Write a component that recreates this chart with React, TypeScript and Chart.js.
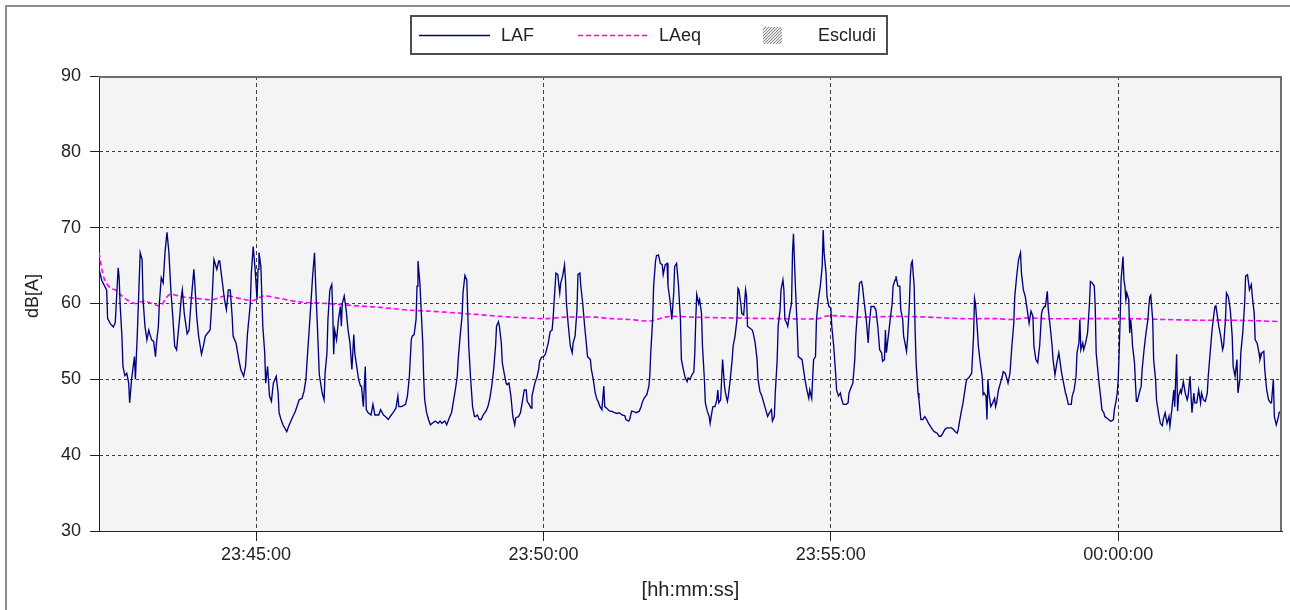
import { useEffect, useRef } from "react";
import { Chart, registerables } from "chart.js";

Chart.register(...registerables);

const FONT = "'Liberation Sans', Arial, sans-serif";
const TEXT = "#222222";

// time axis: seconds elapsed since 23:42:16
const START_CLOCK_SECONDS = 23 * 3600 + 42 * 60 + 16;
const X_MAX_SECONDS = 1235;
const xTickSeconds = [164, 464, 764, 1064]; // 23:45:00, 23:50:00, 23:55:00, 00:00:00
const yTickValues = [30, 40, 50, 60, 70, 80, 90];

const seriesNames = ["LAF", "LAeq", "Escludi"];
const xAxisTitle = "[hh:mm:ss]";
const yAxisTitle = "dB[A]";

// LAF readings: [seconds, dB(A)]
const lafReadings: [number, number][] = [
  [0, 64.5], [3, 63.0], [8, 61.8], [9, 58.0], [12, 57.3], [15, 56.9], [17, 57.5], [18, 60.0], [20, 64.7], [21, 63.5],
  [22, 60.0], [24, 55.5], [25, 51.7], [27, 50.5], [29, 50.8], [31, 49.5], [32, 46.9], [34, 50.0], [37, 53.0], [38, 50.0],
  [40, 56.0], [43, 66.7], [45, 65.8], [46, 60.5], [48, 57.0], [50, 55.2], [52, 56.5], [53, 56.0], [55, 55.2], [57, 55.0],
  [59, 53.0], [60, 54.8], [62, 57.0], [63, 60.0], [65, 63.4], [67, 62.7], [69, 66.9], [71, 69.4], [73, 66.7], [75, 61.8],
  [77, 58.3], [79, 54.4], [81, 53.9], [84, 57.9], [86, 60.9], [87, 61.8], [89, 58.7], [92, 56.0], [94, 56.5], [96, 60.0],
  [99, 64.5], [100, 62.7], [102, 58.3], [104, 55.7], [107, 53.3], [109, 54.4], [111, 55.7], [116, 56.5], [118, 60.5], [120, 65.8],
  [123, 64.5], [125, 65.6], [126, 65.6], [128, 63.6], [131, 60.5], [133, 59.2], [135, 61.8], [137, 61.8], [139, 58.3], [140, 55.7],
  [143, 54.8], [146, 52.6], [148, 51.3], [151, 50.4], [153, 51.7], [155, 56.0], [158, 60.0], [159, 64.0], [161, 67.5], [163, 64.5],
  [165, 60.5], [166, 64.5], [167, 66.7], [169, 64.9], [171, 57.0], [173, 53.5], [174, 49.5], [176, 51.7], [178, 47.8], [180, 47.1],
  [182, 49.5], [185, 50.4], [187, 48.2], [188, 45.6], [190, 44.7], [192, 44.0], [196, 43.1], [198, 43.8], [201, 44.7], [205, 45.8],
  [209, 47.3], [212, 47.5], [214, 48.4], [216, 50.0], [218, 53.9], [219, 55.7], [221, 59.6], [223, 63.6], [225, 66.7], [226, 63.1],
  [227, 60.0], [228, 57.0], [230, 50.6], [233, 48.2], [235, 47.3], [236, 50.8], [238, 53.5], [239, 57.9], [241, 61.8], [243, 62.5],
  [244, 59.2], [245, 53.3], [246, 56.5], [248, 55.2], [250, 57.9], [252, 59.6], [253, 57.0], [254, 60.0], [256, 61.0], [258, 59.2],
  [260, 56.5], [262, 54.8], [264, 51.3], [266, 55.9], [267, 53.5], [269, 51.7], [271, 50.0], [273, 49.1], [274, 49.1], [276, 46.4],
  [278, 51.7], [279, 46.0], [281, 45.6], [284, 45.3], [286, 46.7], [288, 45.3], [292, 45.3], [294, 46.0], [297, 45.3], [299, 45.1],
  [302, 44.7], [304, 45.1], [307, 45.6], [310, 46.2], [312, 47.8], [313, 46.4], [316, 46.4], [320, 46.7], [322, 47.8], [324, 50.4],
  [326, 55.2], [327, 55.7], [329, 55.9], [331, 57.9], [332, 62.3], [333, 65.6], [335, 62.7], [336, 60.0], [338, 54.8], [339, 50.0],
  [340, 47.3], [342, 45.6], [344, 44.7], [346, 44.0], [348, 44.2], [351, 44.5], [354, 44.2], [356, 44.5], [358, 44.2], [361, 44.5],
  [363, 44.0], [365, 44.7], [368, 45.6], [370, 47.1], [372, 48.6], [374, 50.4], [375, 52.6], [377, 55.7], [379, 58.3], [380, 61.4],
  [382, 63.7], [384, 63.1], [385, 58.7], [386, 54.4], [388, 50.0], [390, 46.4], [392, 45.1], [393, 45.1], [395, 45.3], [397, 44.7],
  [399, 44.7], [401, 45.3], [404, 45.8], [406, 46.4], [408, 47.5], [410, 49.1], [412, 51.3], [414, 54.4], [415, 57.0], [417, 57.6],
  [418, 57.0], [420, 54.8], [421, 52.2], [423, 50.8], [425, 49.5], [426, 49.3], [428, 49.5], [430, 47.8], [432, 45.1], [434, 44.0],
  [435, 44.9], [438, 45.1], [440, 45.6], [442, 47.1], [444, 48.6], [446, 48.6], [447, 47.1], [449, 46.7], [451, 46.2], [452, 47.8],
  [455, 49.5], [457, 50.2], [459, 51.3], [460, 52.4], [462, 52.9], [464, 53.0], [466, 53.3], [469, 54.8], [471, 56.3], [473, 56.5],
  [474, 57.9], [475, 60.0], [477, 64.0], [479, 63.8], [480, 62.5], [481, 61.4], [482, 62.7], [484, 63.6], [486, 65.1], [487, 63.1],
  [488, 60.0], [490, 57.0], [492, 54.4], [494, 53.5], [495, 54.8], [497, 55.7], [499, 59.2], [500, 63.8], [502, 64.0], [503, 62.3],
  [505, 60.0], [507, 57.0], [509, 54.4], [510, 53.0], [513, 52.6], [514, 51.3], [516, 50.0], [518, 48.2], [520, 47.3], [521, 47.1],
  [523, 46.4], [525, 46.0], [527, 49.1], [528, 46.4], [530, 46.2], [533, 45.8], [535, 45.8], [538, 45.6], [541, 45.5], [543, 45.6],
  [546, 45.3], [549, 45.2], [550, 44.7], [553, 44.5], [554, 44.7], [556, 45.8], [559, 45.7], [561, 45.6], [564, 45.8], [566, 46.4],
  [567, 46.9], [569, 47.5], [572, 48.0], [574, 49.1], [575, 50.4], [576, 53.5], [578, 57.9], [579, 62.3], [581, 65.6], [582, 66.3],
  [584, 66.4], [586, 65.3], [588, 65.1], [589, 63.8], [591, 65.1], [593, 65.3], [594, 62.3], [596, 60.5], [598, 57.9], [600, 61.4],
  [601, 64.9], [603, 65.3], [605, 62.3], [607, 57.9], [608, 52.6], [610, 51.3], [612, 50.2], [614, 49.7], [615, 50.2], [617, 50.0],
  [619, 50.6], [621, 51.0], [622, 53.5], [623, 57.9], [624, 61.2], [626, 60.0], [627, 60.5], [629, 58.7], [630, 54.4], [632, 50.0],
  [633, 46.9], [635, 45.8], [637, 45.1], [638, 44.2], [640, 45.8], [641, 46.4], [643, 46.4], [645, 47.3], [646, 48.6], [647, 46.9],
  [649, 47.3], [651, 52.6], [653, 49.1], [654, 48.2], [656, 47.1], [657, 47.8], [659, 50.0], [661, 52.6], [662, 54.4], [664, 55.7],
  [666, 57.9], [667, 62.0], [668, 61.8], [670, 60.0], [671, 58.7], [673, 58.5], [675, 61.8], [676, 60.9], [677, 57.0], [679, 56.8],
  [682, 56.5], [683, 56.1], [685, 54.8], [687, 52.6], [688, 50.0], [690, 48.4], [692, 47.8], [694, 46.9], [696, 46.0], [698, 45.1],
  [700, 45.6], [702, 46.0], [703, 44.5], [705, 45.1], [706, 48.2], [708, 52.6], [709, 57.0], [711, 59.2], [712, 61.8], [714, 63.1],
  [715, 61.8], [716, 57.9], [718, 57.4], [719, 57.0], [721, 58.7], [723, 60.0], [724, 66.7], [725, 69.2], [727, 62.3], [729, 56.5],
  [730, 53.0], [732, 52.8], [734, 52.6], [735, 51.7], [737, 50.0], [739, 48.6], [741, 47.5], [742, 48.6], [744, 47.5], [746, 52.6],
  [748, 53.0], [749, 57.9], [751, 60.5], [753, 62.3], [755, 64.9], [756, 69.7], [757, 66.7], [759, 64.0], [760, 60.9], [762, 59.6],
  [764, 59.4], [765, 57.0], [767, 54.4], [769, 50.8], [770, 48.6], [772, 47.8], [774, 48.2], [775, 47.5], [777, 46.7], [780, 46.7],
  [782, 46.9], [783, 48.2], [785, 48.9], [787, 49.5], [789, 52.6], [790, 55.7], [792, 59.2], [794, 62.7], [796, 62.9], [797, 62.3],
  [799, 60.0], [801, 57.9], [803, 54.8], [804, 57.0], [806, 59.6], [809, 59.6], [811, 59.2], [813, 57.0], [815, 53.9], [817, 53.5],
  [818, 52.4], [820, 52.6], [821, 56.5], [822, 53.5], [824, 55.7], [826, 57.9], [828, 60.0], [829, 62.3], [831, 63.1], [832, 63.6],
  [834, 62.3], [835, 62.3], [836, 62.3], [837, 59.2], [839, 57.9], [840, 55.7], [842, 54.4], [843, 53.7], [844, 55.2], [846, 60.0],
  [847, 63.6], [848, 65.3], [849, 65.6], [851, 62.3], [852, 56.5], [853, 52.2], [855, 48.2], [856, 47.3], [858, 44.7], [860, 44.7],
  [862, 45.1], [864, 44.7], [866, 44.2], [868, 43.8], [870, 43.4], [872, 43.1], [875, 42.9], [877, 42.5], [879, 42.5], [881, 42.9],
  [883, 43.4], [885, 43.6], [888, 43.6], [890, 43.6], [892, 43.4], [894, 43.1], [896, 42.9], [897, 43.4], [898, 44.2], [900, 45.6],
  [902, 46.9], [904, 48.6], [905, 49.5], [906, 50.0], [908, 50.2], [909, 50.4], [911, 50.8], [913, 55.7], [914, 60.7], [915, 60.0],
  [917, 56.5], [918, 54.4], [920, 52.2], [922, 50.4], [923, 48.0], [924, 48.2], [926, 47.8], [927, 44.7], [928, 50.0], [929, 48.2],
  [931, 46.4], [933, 46.9], [935, 47.5], [936, 46.4], [937, 46.9], [939, 48.6], [941, 49.5], [943, 50.4], [944, 51.0], [946, 50.8],
  [948, 50.0], [949, 49.5], [951, 50.8], [953, 54.4], [955, 57.4], [956, 60.9], [958, 63.6], [960, 65.8], [962, 66.7], [963, 64.0],
  [965, 61.8], [967, 60.9], [969, 59.2], [970, 58.3], [971, 57.4], [973, 59.0], [975, 58.3], [976, 54.4], [978, 52.6], [980, 52.2],
  [982, 54.4], [984, 58.7], [985, 59.2], [987, 59.6], [988, 59.6], [990, 61.6], [991, 59.2], [993, 57.0], [995, 54.4], [996, 52.6],
  [998, 50.6], [1000, 52.2], [1002, 53.5], [1003, 52.6], [1005, 50.8], [1007, 49.5], [1009, 48.2], [1010, 47.8], [1012, 46.7], [1015, 46.7],
  [1016, 47.8], [1018, 48.6], [1020, 50.4], [1021, 53.5], [1023, 54.8], [1024, 57.9], [1025, 53.9], [1027, 54.8], [1028, 53.9], [1030, 54.8],
  [1032, 56.1], [1034, 60.0], [1035, 62.9], [1037, 62.7], [1039, 62.3], [1040, 59.6], [1041, 53.5], [1043, 50.8], [1044, 49.5], [1046, 47.3],
  [1047, 46.0], [1049, 45.6], [1050, 45.1], [1052, 44.9], [1054, 44.7], [1056, 44.5], [1057, 44.5], [1059, 44.7], [1060, 46.0], [1062, 47.3],
  [1063, 48.2], [1064, 50.0], [1065, 53.5], [1066, 57.9], [1067, 63.1], [1069, 66.2], [1070, 63.1], [1071, 62.3], [1072, 60.5], [1073, 61.4],
  [1075, 60.5], [1076, 56.1], [1077, 57.9], [1078, 56.5], [1079, 54.4], [1081, 52.2], [1082, 49.5], [1083, 47.1], [1084, 47.1], [1086, 48.2],
  [1088, 49.1], [1089, 51.3], [1091, 53.9], [1093, 56.1], [1095, 57.9], [1096, 59.6], [1097, 60.9], [1098, 61.1], [1100, 57.9], [1101, 52.6],
  [1103, 50.0], [1104, 47.3], [1106, 45.6], [1108, 44.2], [1110, 43.9], [1111, 44.7], [1113, 45.6], [1115, 44.2], [1117, 45.1], [1118, 43.8],
  [1120, 46.0], [1122, 48.6], [1123, 46.4], [1125, 53.3], [1126, 45.8], [1127, 47.8], [1129, 48.6], [1130, 48.2], [1132, 49.7], [1134, 48.2],
  [1136, 47.3], [1137, 47.8], [1139, 50.4], [1141, 45.6], [1143, 48.2], [1144, 46.9], [1146, 46.9], [1148, 48.6], [1150, 46.9], [1151, 48.2],
  [1153, 47.3], [1155, 47.1], [1157, 48.2], [1158, 50.4], [1160, 53.5], [1162, 56.5], [1164, 58.7], [1165, 59.6], [1166, 59.7], [1168, 57.9],
  [1169, 57.0], [1171, 55.7], [1173, 53.9], [1174, 54.4], [1176, 57.9], [1177, 61.4], [1179, 60.9], [1181, 59.2], [1183, 55.7], [1184, 51.7],
  [1186, 50.4], [1188, 52.6], [1189, 48.2], [1191, 50.0], [1192, 53.5], [1194, 56.1], [1196, 60.0], [1197, 63.6], [1199, 63.8], [1201, 61.8],
  [1203, 62.5], [1204, 60.9], [1206, 58.7], [1207, 55.2], [1209, 54.8], [1211, 53.5], [1212, 52.6], [1214, 53.5], [1216, 53.7], [1217, 51.3],
  [1219, 48.6], [1221, 47.3], [1223, 46.9], [1224, 46.9], [1226, 50.0], [1227, 45.1], [1229, 44.0], [1231, 44.9], [1232, 45.6], [1234, 45.8],
  [1235, 45.8],
];

// LAeq (running equivalent level): [seconds, dB(A)]
const laeqReadings: [number, number][] = [
  [0, 66.7], [3, 64.5], [6, 63.1], [12, 62.0], [17, 61.8], [22, 61.2], [29, 60.5], [38, 60.0], [43, 60.2], [48, 60.3],
  [64, 59.7], [69, 60.5], [74, 61.2], [86, 60.9], [100, 60.7], [118, 60.5], [128, 60.9], [135, 61.0], [149, 60.6], [161, 60.4],
  [172, 61.0], [191, 60.6], [210, 60.2], [239, 60.0], [257, 59.8], [292, 59.5], [326, 59.1], [344, 59.0], [379, 58.7], [419, 58.3],
  [431, 58.2], [448, 58.1], [466, 58.0], [487, 58.2], [504, 58.2], [518, 58.2], [535, 58.0], [553, 57.9], [575, 57.7], [591, 58.2],
  [598, 58.3], [622, 58.2], [657, 58.1], [709, 58.0], [751, 58.0], [758, 58.3], [765, 58.4], [796, 58.2], [831, 58.3], [866, 58.2],
  [901, 58.0], [936, 58.0], [953, 57.9], [970, 58.1], [988, 58.0], [1023, 58.0], [1044, 58.0], [1075, 58.0], [1110, 57.9], [1144, 57.8],
  [1179, 57.8], [1214, 57.7], [1235, 57.6],
];

function clockLabel(offsetSeconds: number): string {
  const total = (START_CLOCK_SECONDS + Math.round(offsetSeconds)) % 86400;
  const h = Math.floor(total / 3600);
  const m = Math.floor((total % 3600) / 60);
  const s = total % 60;
  const p = (n: number) => String(n).padStart(2, "0");
  return `${p(h)}:${p(m)}:${p(s)}`;
}

const decorPlugin = {
  id: "decor",
  beforeDraw(chart: any) {
    const { ctx, chartArea: a } = chart;
    ctx.save();
    ctx.fillStyle = "#f4f4f4";
    ctx.fillRect(a.left, a.top, a.right - a.left, a.bottom - a.top);
    ctx.restore();
  },
  afterDraw(chart: any) {
    const { ctx, chartArea: a } = chart;
    const ds = chart.data.datasets;
    ctx.save();
    // top and right frame of the plot area
    ctx.strokeStyle = "#6e6e6e";
    ctx.lineWidth = 2;
    ctx.setLineDash([]);
    ctx.beginPath();
    ctx.moveTo(a.left, a.top + 1);
    ctx.lineTo(a.right - 1, a.top + 1);
    ctx.lineTo(a.right - 1, a.bottom);
    ctx.stroke();

    // y axis title
    ctx.save();
    ctx.translate(33, 296);
    ctx.rotate(-Math.PI / 2);
    ctx.font = `18px ${FONT}`;
    ctx.fillStyle = TEXT;
    ctx.textAlign = "center";
    ctx.textBaseline = "middle";
    ctx.fillText(yAxisTitle, 0, 0);
    ctx.restore();

    // legend box
    ctx.fillStyle = "#ffffff";
    ctx.fillRect(411, 16, 476, 38);
    ctx.strokeStyle = "#4d4d4d";
    ctx.lineWidth = 2;
    ctx.strokeRect(411, 16, 476, 38);

    ctx.font = `18px ${FONT}`;
    ctx.fillStyle = TEXT;
    ctx.textAlign = "left";
    ctx.textBaseline = "alphabetic";

    // LAF
    ctx.strokeStyle = ds[0].borderColor;
    ctx.lineWidth = 1.5;
    ctx.beginPath();
    ctx.moveTo(419, 35.5);
    ctx.lineTo(490, 35.5);
    ctx.stroke();
    ctx.fillText(seriesNames[0], 501, 41);

    // LAeq
    ctx.strokeStyle = ds[1].borderColor;
    ctx.setLineDash([5, 3]);
    ctx.beginPath();
    ctx.moveTo(578, 35.5);
    ctx.lineTo(650, 35.5);
    ctx.stroke();
    ctx.setLineDash([]);
    ctx.fillText(seriesNames[1], 659, 41);

    // Escludi hatch swatch
    const hx = 763, hy = 27, hw = 19, hh = 17;
    ctx.save();
    ctx.beginPath();
    ctx.rect(hx, hy, hw, hh);
    ctx.clip();
    ctx.fillStyle = "#e6e6e6";
    ctx.fillRect(hx, hy, hw, hh);
    ctx.strokeStyle = "#8c8c8c";
    ctx.lineWidth = 1;
    for (let k = -hh; k < hw + hh; k += 3) {
      ctx.beginPath();
      ctx.moveTo(hx + k, hy + hh);
      ctx.lineTo(hx + k + hh, hy);
      ctx.stroke();
    }
    ctx.restore();
    ctx.fillStyle = TEXT;
    ctx.fillText(seriesNames[2], 818, 41);
    ctx.restore();
  },
};

export default function App() {
  const canvasRef = useRef<HTMLCanvasElement | null>(null);

  useEffect(() => {
    const canvas = canvasRef.current;
    if (!canvas) return;
    const chart = new Chart(canvas, {
      type: "line",
      data: {
        datasets: [
          {
            label: seriesNames[0],
            data: lafReadings.map(([t, v]) => ({ x: t, y: v })),
            borderColor: "#000080",
            borderWidth: 1.35,
            pointRadius: 0,
            tension: 0,
            fill: false,
          },
          {
            label: seriesNames[1],
            data: laeqReadings.map(([t, v]) => ({ x: t, y: v })),
            borderColor: "#ff00ff",
            borderWidth: 1.6,
            borderDash: [5, 3],
            pointRadius: 0,
            tension: 0.3,
            fill: false,
          },
        ],
      },
      options: {
        animation: false,
        responsive: false,
        devicePixelRatio: 1,
        layout: { padding: { left: 0, right: 8, top: 76, bottom: 0 } },
        plugins: {
          legend: { display: false },
          tooltip: { enabled: false },
        },
        scales: {
          x: {
            type: "linear",
            min: 0,
            max: X_MAX_SECONDS,
            afterBuildTicks: (s: any) => {
              s.ticks = xTickSeconds.map((v) => ({ value: v }));
            },
            afterFit: (s: any) => {
              s.height = 79;
            },
            ticks: {
              font: { family: FONT, size: 18 },
              color: TEXT,
              padding: 3,
              maxRotation: 0,
              autoSkip: false,
              callback: (v: any) => clockLabel(Number(v)),
            },
            grid: {
              color: "#3f3f3f",
              lineWidth: 1,
              tickLength: 10,
              tickColor: "#222",
            },
            border: { color: "#222", width: 1, dash: [4, 3] },
            title: {
              display: true,
              text: xAxisTitle,
              font: { family: FONT, size: 20 },
              color: TEXT,
              padding: { top: 0, bottom: 8 },
            },
          },
          y: {
            min: 30,
            max: 90,
            afterBuildTicks: (s: any) => {
              s.ticks = yTickValues.map((v) => ({ value: v }));
            },
            afterFit: (s: any) => {
              s.width = 99;
            },
            ticks: {
              font: { family: FONT, size: 18 },
              color: TEXT,
              padding: 9,
            },
            grid: {
              color: "#3c3c3c",
              lineWidth: 1,
              tickLength: 9,
              tickColor: "#222",
            },
            border: { color: "#222", width: 1, dash: [3, 3] },
          },
        },
      },
      plugins: [decorPlugin],
    } as any);
    return () => chart.destroy();
  }, []);

  return (
    <div
      style={{
        position: "fixed",
        left: 0,
        top: 0,
        width: 1290,
        height: 610,
        overflow: "hidden",
        background: "#ffffff",
      }}
    >
      <div
        style={{
          position: "absolute",
          left: 5,
          top: 5,
          width: 1320,
          height: 640,
          border: "2px solid #8c8c8c",
        }}
      />
      <canvas
        ref={canvasRef}
        width={1290}
        height={610}
        style={{ position: "absolute", left: 0, top: 0, width: 1290, height: 610 }}
      />
    </div>
  );
}
